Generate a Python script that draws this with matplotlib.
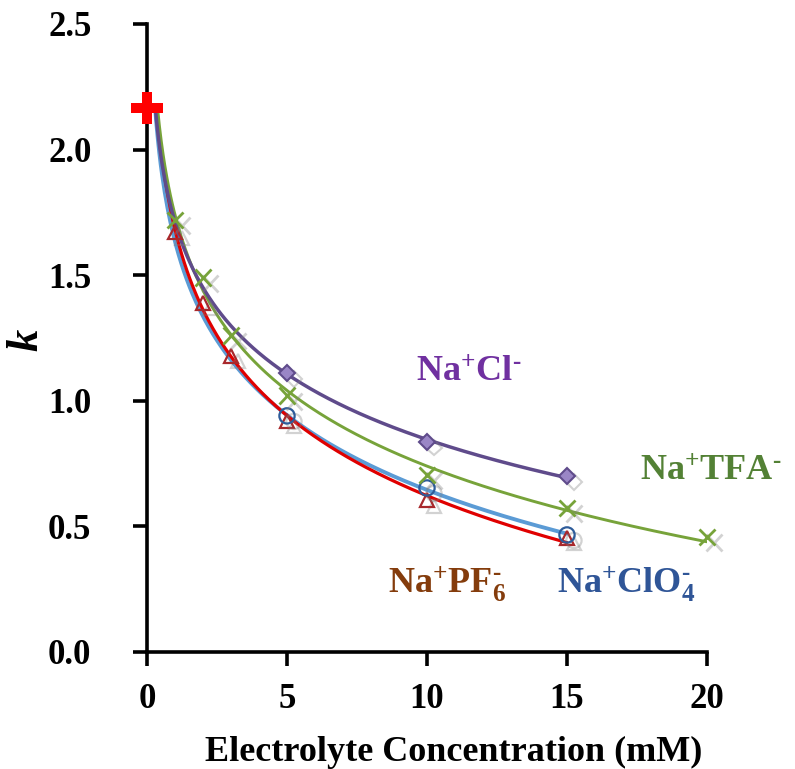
import numpy as np
import matplotlib
matplotlib.use("Agg")
import matplotlib.pyplot as plt
import matplotlib.patheffects as pe

plt.rcParams['font.family'] = ['Liberation Serif', 'DejaVu Serif']
plt.rcParams['font.weight'] = 'bold'
plt.rcParams['mathtext.fontset'] = 'custom'
plt.rcParams['mathtext.rm'] = 'Liberation Serif:bold'
plt.rcParams['mathtext.bf'] = 'Liberation Serif:bold'
plt.rcParams['mathtext.it'] = 'Liberation Serif:bold:italic'

# data
k0_x = [0.0]
k0_y = [2.165]

nacl_x = [5, 10, 15]
nacl_y = [1.11, 0.836, 0.70]

tfa_x = [1, 2, 3, 5, 10, 15, 20]
tfa_y = [1.72, 1.49, 1.26, 1.02, 0.705, 0.573, 0.458]

pf6_x = [1, 2, 3, 5, 10, 15]
pf6_y = [1.67, 1.39, 1.18, 0.92, 0.605, 0.454]

clo4_x = [5, 10, 15]
clo4_y = [0.94, 0.653, 0.466]

xticks = [0, 5, 10, 15, 20]
yticks = [0.0, 0.5, 1.0, 1.5, 2.0, 2.5]

fig = plt.figure(figsize=(7.95, 7.69), dpi=100)
ax = fig.add_axes([147/795, 1-652/769, 560/795, 628/769])

shadow = [pe.SimpleLineShadow(offset=(5, -4), shadow_color='#808080', alpha=0.35), pe.Normal()]

def fit_curve(xs, ys, color, lw, z):
    # logarithmic trend line, started where it reaches the k0 level
    b, a = np.polyfit(np.log(xs), ys, 1)
    x0 = np.exp((k0_y[0] - a) / b)
    xx = np.linspace(x0, max(xs), 300)
    ax.plot(xx, a + b*np.log(xx), color=color, lw=lw, zorder=z, solid_capstyle='round')

fit_curve(clo4_x, clo4_y, '#5B9BD5', 2.8, 2)
fit_curve(pf6_x, pf6_y, '#E00000', 2.3, 3)
fit_curve(tfa_x, tfa_y, '#77A33A', 2.1, 4)
fit_curve(nacl_x, nacl_y, '#5F4B8B', 2.5, 5)

ax.plot(pf6_x, pf6_y, ls='none', marker='^', ms=10, mfc='none', mec='#A8282C', mew=1.6, zorder=6, clip_on=False, path_effects=shadow)
ax.plot(clo4_x, clo4_y, ls='none', marker='o', ms=11, mfc='none', mec='#2E5C9A', mew=1.6, zorder=6, clip_on=False, path_effects=shadow)
ax.plot(tfa_x, tfa_y, ls='none', marker='x', ms=12, mec='#77A33A', mew=2, zorder=7, clip_on=False, path_effects=shadow)
ax.plot(nacl_x, nacl_y, ls='none', marker='D', ms=8, mfc='#9A86C6', mec='#5F4B8B', mew=1.5, zorder=7, clip_on=False, path_effects=shadow)
ax.plot(k0_x, k0_y, ls='none', marker='P', ms=23, mfc='#FF0000', mec='#FF0000', mew=0, zorder=8, clip_on=False, path_effects=shadow)

ax.set_xlim(0, 20)
ax.set_ylim(0, 2.5)
ax.set_xticks(xticks)
ax.set_xticklabels([str(t) for t in xticks])
ax.set_yticks(yticks)
ax.set_yticklabels([f"{t:.1f}" for t in yticks])

for s in ['top', 'right']:
    ax.spines[s].set_visible(False)
for s in ['left', 'bottom']:
    ax.spines[s].set_linewidth(2.6)
ax.tick_params(axis='both', direction='out', length=10, width=2.6, labelsize=25)
ax.tick_params(axis='x', pad=12)
ax.tick_params(axis='y', pad=30)
for lab in ax.get_xticklabels() + ax.get_yticklabels():
    lab.set_fontweight('bold')

ax.set_xlabel('Electrolyte Concentration (mM)', fontsize=26, fontweight='bold')
ax.xaxis.set_label_coords((454-147)/560, (652-736)/628)
ax.set_ylabel('k', fontsize=32, fontweight='bold', style='italic', rotation=90)
ax.yaxis.set_label_coords(-(147-46)/560, (652-340)/628)

fs = 26
ax.text(11.5, 1.11, r'$\mathbf{Na^{+}Cl^{\text{-}}}$', color='#7030A0', fontsize=fs, ha='center', va='center')
ax.text(20.15, 0.715, r'$\mathbf{Na^{+}TFA^{\text{-}}}$', color='#538135', fontsize=fs, ha='center', va='center', clip_on=False)
ax.text(10.7, 0.27, r'$\mathbf{Na^{+}PF_{6}^{\text{-}}}$', color='#843C0C', fontsize=fs, ha='center', va='center')
ax.text(17.1, 0.27, r'$\mathbf{Na^{+}ClO_{4}^{\text{-}}}$', color='#2F5597', fontsize=fs, ha='center', va='center')

fig.savefig('out.png', dpi=100)
